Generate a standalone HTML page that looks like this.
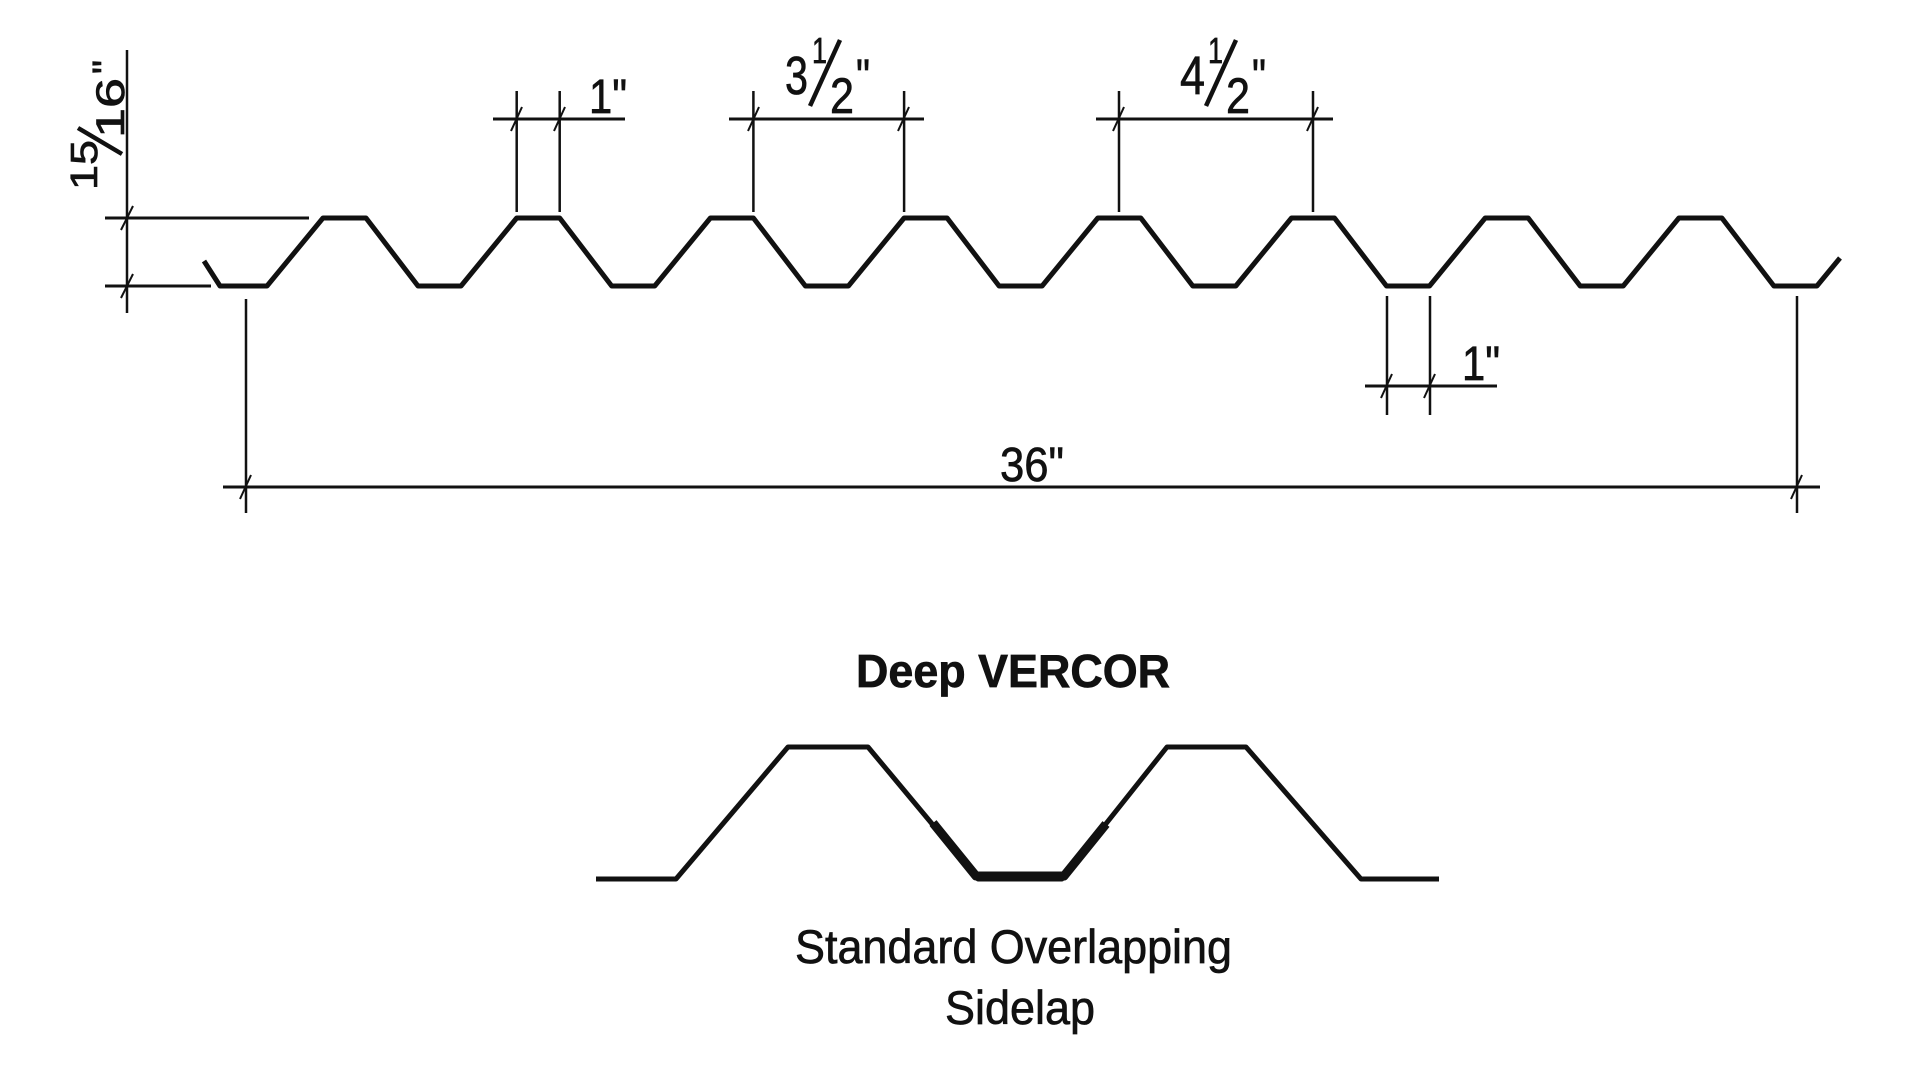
<!DOCTYPE html>
<html><head><meta charset="utf-8"><style>
html,body{margin:0;padding:0;background:#fff;}
svg{display:block;}
text{font-family:"Liberation Sans",Arial,sans-serif;fill:#111;stroke:#111;stroke-width:0.7;}
</style></head><body>
<svg width="1920" height="1080" viewBox="0 0 1920 1080" xmlns="http://www.w3.org/2000/svg">
<rect width="1920" height="1080" fill="#fff"/>
<polyline fill="none" stroke="#111" stroke-width="5" stroke-linejoin="round"
points="204,261 220,286 267,286
323,218 366,218 418,286 461,286
516.7,218 559.7,218 611.7,286 654.7,286
710.4,218 753.4,218 805.4,286 848.4,286
904.1,218 947.1,218 999.1,286 1042.1,286
1097.8,218 1140.8,218 1192.8,286 1235.8,286
1291.5,218 1334.5,218 1386.5,286 1429.5,286
1485.2,218 1528.2,218 1580.2,286 1623.2,286
1678.9,218 1721.9,218 1773.9,286 1816.9,286 1840,258"/>
<g stroke="#111" fill="none">
<line x1="127" y1="50" x2="127" y2="313" stroke-width="2.5"/>
<line x1="105" y1="218" x2="309" y2="218" stroke-width="3"/>
<line x1="105" y1="286" x2="211" y2="286" stroke-width="3"/>
<line x1="121" y1="230" x2="133" y2="206" stroke-width="2"/>
<line x1="121" y1="298" x2="133" y2="274" stroke-width="2"/>
<line x1="516.7" y1="212" x2="516.7" y2="91" stroke-width="2.5"/>
<line x1="559.7" y1="212" x2="559.7" y2="91" stroke-width="2.5"/>
<line x1="493" y1="119" x2="625" y2="119" stroke-width="3"/>
<line x1="511" y1="131" x2="522" y2="107" stroke-width="2"/>
<line x1="554" y1="131" x2="565" y2="107" stroke-width="2"/>
<line x1="753.4" y1="212" x2="753.4" y2="91" stroke-width="2.5"/>
<line x1="904.1" y1="212" x2="904.1" y2="91" stroke-width="2.5"/>
<line x1="729" y1="119" x2="924" y2="119" stroke-width="3"/>
<line x1="748" y1="131" x2="759" y2="107" stroke-width="2"/>
<line x1="898" y1="131" x2="909" y2="107" stroke-width="2"/>
<line x1="1119" y1="212" x2="1119" y2="91" stroke-width="2.5"/>
<line x1="1313" y1="212" x2="1313" y2="91" stroke-width="2.5"/>
<line x1="1096" y1="119" x2="1333" y2="119" stroke-width="3"/>
<line x1="1113" y1="131" x2="1124" y2="107" stroke-width="2"/>
<line x1="1307" y1="131" x2="1318" y2="107" stroke-width="2"/>
<line x1="1387" y1="296" x2="1387" y2="415" stroke-width="2.5"/>
<line x1="1430" y1="296" x2="1430" y2="415" stroke-width="2.5"/>
<line x1="1365" y1="386" x2="1497" y2="386" stroke-width="3"/>
<line x1="1381" y1="398" x2="1392" y2="374" stroke-width="2"/>
<line x1="1424" y1="398" x2="1435" y2="374" stroke-width="2"/>
<line x1="246" y1="299" x2="246" y2="513" stroke-width="2.5"/>
<line x1="1797" y1="296" x2="1797" y2="513" stroke-width="2.5"/>
<line x1="223" y1="487" x2="1820" y2="487" stroke-width="3"/>
<line x1="240" y1="499" x2="251" y2="475" stroke-width="2"/>
<line x1="1791" y1="499" x2="1802" y2="475" stroke-width="2"/>
</g>
<text x="589" y="113" font-size="48" textLength="38" lengthAdjust="spacingAndGlyphs">1"</text>
<text x="785" y="94" font-size="54" textLength="23" lengthAdjust="spacingAndGlyphs">3</text>
<text x="812" y="63" font-size="36" textLength="15" lengthAdjust="spacingAndGlyphs">1</text>
<line x1="840" y1="40" x2="810" y2="106" stroke="#111" stroke-width="4.5"/>
<text x="830" y="113" font-size="50" textLength="24" lengthAdjust="spacingAndGlyphs">2</text>
<text x="856" y="93" font-size="48" textLength="14" lengthAdjust="spacingAndGlyphs">"</text>
<text x="1180" y="94" font-size="54" textLength="25" lengthAdjust="spacingAndGlyphs">4</text>
<text x="1208" y="63" font-size="36" textLength="15" lengthAdjust="spacingAndGlyphs">1</text>
<line x1="1236" y1="40" x2="1206" y2="106" stroke="#111" stroke-width="4.5"/>
<text x="1226" y="113" font-size="50" textLength="24" lengthAdjust="spacingAndGlyphs">2</text>
<text x="1252" y="93" font-size="48" textLength="14" lengthAdjust="spacingAndGlyphs">"</text>
<text x="1462" y="380" font-size="48" textLength="38" lengthAdjust="spacingAndGlyphs">1"</text>
<text x="1000" y="481" font-size="48" textLength="64" lengthAdjust="spacingAndGlyphs">36"</text>
<g transform="rotate(-90)">
<text x="-190" y="97" font-size="38" textLength="50" lengthAdjust="spacingAndGlyphs">15</text>
<text x="-138" y="124" font-size="40" textLength="60" lengthAdjust="spacingAndGlyphs">16</text>
<text x="-74" y="119" font-size="38" textLength="14" lengthAdjust="spacingAndGlyphs">"</text>
</g>
<line x1="78" y1="128" x2="122" y2="154" stroke="#111" stroke-width="4.5"/>
<text x="856" y="687" font-size="46" font-weight="bold" textLength="314" lengthAdjust="spacingAndGlyphs">Deep VERCOR</text>
<polyline fill="none" stroke="#111" stroke-width="5" stroke-linejoin="round"
points="596,879 676,879 788,747 868,747 978,879 1062,879 1167,747 1246,747 1361,879 1439,879"/>
<polyline fill="none" stroke="#111" stroke-width="9" stroke-linejoin="round"
points="933,823 976,876 1064,876 1106,824"/>
<text x="795" y="963" font-size="47" textLength="437" lengthAdjust="spacingAndGlyphs">Standard Overlapping</text>
<text x="945" y="1024" font-size="47" textLength="150" lengthAdjust="spacingAndGlyphs">Sidelap</text>
</svg>
</body></html>
